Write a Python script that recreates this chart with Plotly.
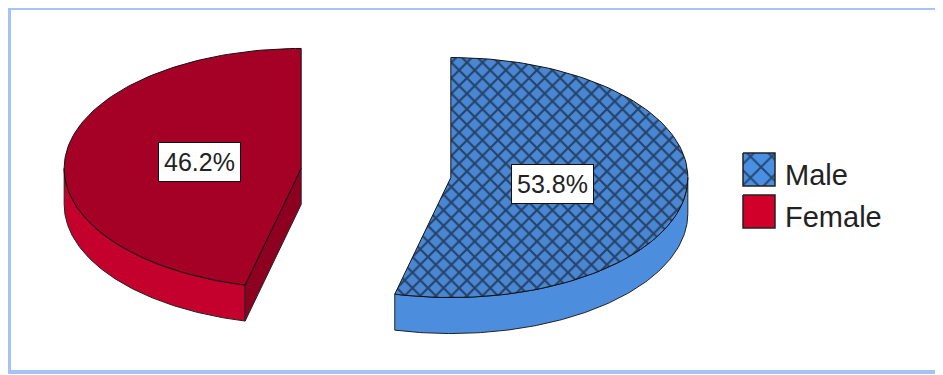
import numpy as np
import plotly.graph_objects as go

# ---- data ----
categories = ["Male", "Female"]
percent = [53.8, 46.2]
slice_labels = ["53.8%", "46.2%"]

# ---- styling / geometry (pixel space of the page) ----
W, H = 943, 375
OFF = 8                  # page body margin
C0 = (376.0, 173.0)      # pie centre
RX, RY = 237.0, 120.0    # ellipse radii of top face
DEPTH = 36.0             # 3D thickness
EXPLODE = 0.318          # pull-out as fraction of radius
LABEL_K = 0.43

top_colors = {"Male": "#4A86D2", "Female": "#A50026"}
wall_colors = {"Male": "#4C8EDD", "Female": "#C4002C"}
cut_colors = {"Male": "#3A72B8", "Female": "#8E0020"}
legend_colors = {"Male": "#4A90E2", "Female": "#D0002A"}


def pt(c, th):
    r = np.radians(th)
    return c[0] + RX * np.sin(r), c[1] - RY * np.cos(r)


def arc(c, a, b, n=120):
    th = np.linspace(a, b, n)
    r = np.radians(th)
    return c[0] + RX * np.sin(r), c[1] - RY * np.cos(r)


fig = go.Figure()
walls, tops, annots = [], [], []
total = sum(percent)
start = 0.0
for cat, p, lab in zip(categories, percent, slice_labels):
    sweep = 360.0 * p / total
    end = start + sweep
    mid = (start + end) / 2
    m = np.radians(mid)
    c = (C0[0] + EXPLODE * RX * np.sin(m), C0[1] - EXPLODE * RY * np.cos(m))

    # front curved wall (visible between 90 and 270 deg)
    a, b = max(start, 90.0), min(end, 270.0)
    if b > a:
        xs, ys = arc(c, a, b)
        wx = np.concatenate([xs, xs[::-1], xs[:1]])
        wy = np.concatenate([ys, ys[::-1] + DEPTH, ys[:1]])
        walls.append(go.Scatter(x=wx, y=wy, mode="lines", fill="toself",
                                fillcolor=wall_colors[cat],
                                line=dict(color="#222222", width=1),
                                hoverinfo="skip", showlegend=False))
    # radial cut faces
    for th, sign in ((start, -1), (end, 1)):
        nrm = np.radians(th + sign * 90)
        if np.cos(nrm) < -0.05:
            ex, ey = pt(c, th)
            fx = [c[0], ex, ex, c[0], c[0]]
            fy = [c[1], ey, ey + DEPTH, c[1] + DEPTH, c[1]]
            walls.append(go.Scatter(x=fx, y=fy, mode="lines", fill="toself",
                                    fillcolor=cut_colors[cat],
                                    line=dict(color="#222222", width=1),
                                    hoverinfo="skip", showlegend=False))
    # top face
    xs, ys = arc(c, start, end)
    tx = np.concatenate([[c[0]], xs, [c[0]]])
    ty = np.concatenate([[c[1]], ys, [c[1]]])
    kw = {}
    if cat == "Male":
        kw["fillpattern"] = dict(shape="x", fgcolor="#000000", bgcolor=top_colors[cat],
                                 size=11, solidity=0.35)
    tops.append(go.Scatter(x=tx, y=ty, mode="lines", fill="toself",
                           fillcolor=top_colors[cat],
                           line=dict(color="#111111", width=1),
                           hoverinfo="skip", showlegend=False, **kw))
    lx = c[0] + LABEL_K * RX * np.sin(m)
    ly = c[1] - LABEL_K * RY * np.cos(m)
    annots.append(dict(x=lx, y=ly, text=lab, showarrow=False, xref="x", yref="y",
                       font=dict(family="Liberation Sans, Arial", size=25, color="#222222"),
                       bgcolor="white", bordercolor="#111111", borderwidth=1, borderpad=5))
    start = end

for t in walls + tops:
    fig.add_trace(t)

# ---- legend (manual) ----
LEG_X, LEG_Y0, LEG_DY, SW, SH = 743, 153, 42, 32, 33
for i, cat in enumerate(categories):
    y0 = LEG_Y0 + i * LEG_DY
    kw = {}
    if cat == "Male":
        kw["fillpattern"] = dict(shape="x", fgcolor="#000000", bgcolor=legend_colors[cat],
                                 size=15, solidity=0.25)
    fig.add_trace(go.Scatter(x=[LEG_X, LEG_X + SW, LEG_X + SW, LEG_X, LEG_X],
                             y=[y0, y0, y0 + SH, y0 + SH, y0], mode="lines", fill="toself",
                             fillcolor=legend_colors[cat],
                             line=dict(color="#222222", width=1.5),
                             hoverinfo="skip", showlegend=False, **kw))
    annots.append(dict(x=LEG_X + SW + 8, y=y0 + SH / 2 + 5, text=cat, showarrow=False,
                       xanchor="left", yanchor="middle", xref="x", yref="y",
                       font=dict(family="Liberation Sans, Arial", size=29, color="#222222")))

fig.update_layout(
    width=W, height=H, margin=dict(l=0, r=0, t=0, b=0),
    paper_bgcolor="white", plot_bgcolor="white",
    xaxis=dict(range=[OFF, W + OFF], visible=False, fixedrange=True),
    yaxis=dict(range=[H + OFF, OFF], visible=False, fixedrange=True),
    annotations=annots,
    shapes=[dict(type="rect", xref="x", yref="y", x0=9, y0=8, x1=946, y1=372,
                 line=dict(color="#A6C3F6", width=4), fillcolor="rgba(0,0,0,0)", layer="below")],
)

fig.write_html("out.html")
